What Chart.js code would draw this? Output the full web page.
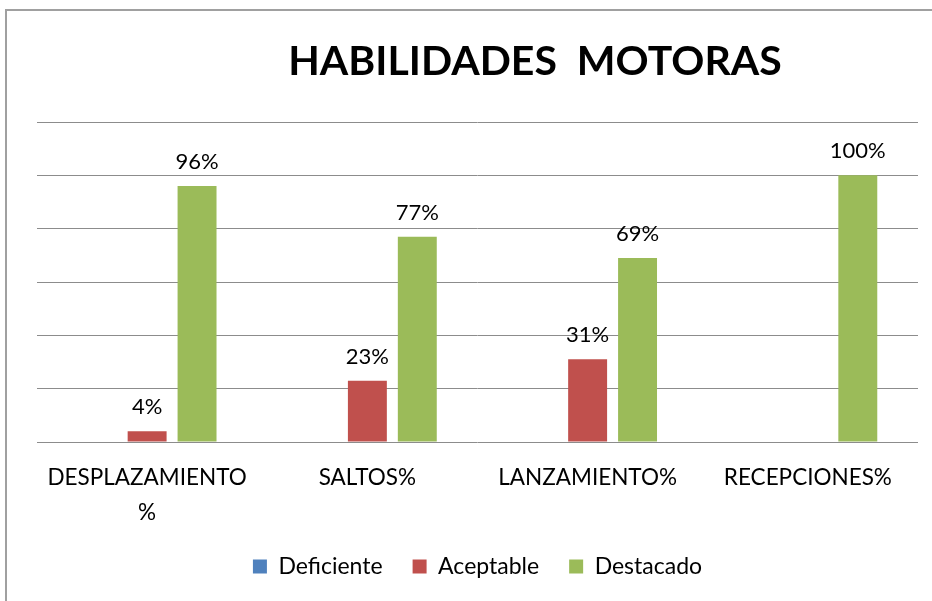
<!DOCTYPE html>
<html>
<head>
<meta charset="utf-8">
<script src="https://cdn.jsdelivr.net/npm/chart.js@4"></script>
<style>
  html, body { margin: 0; padding: 0; background: #fff; overflow: hidden; }
  #frame { position: absolute; left: 5px; top: 9px; width: 960px; height: 640px;
           border-left: 2px solid #a0a0a0; border-top: 2px solid #a0a0a0; }
  #wrap { position: absolute; left: 0; top: 0; width: 932px; height: 601px; }
</style>
</head>
<body>
<div id="frame"></div>
<div id="wrap"><canvas id="motorChart" width="932" height="601"></canvas></div>
<script>
const chartTitle = 'HABILIDADES  MOTORAS';
const categories = [['DESPLAZAMIENTO', '%'], 'SALTOS%', 'LANZAMIENTO%', 'RECEPCIONES%'];
const deficiente = [0, 0, 0, 0];
const aceptable = [4, 23, 31, 0];
const destacado = [96, 77, 69, 100];
const yTicks = [0, 20, 40, 60, 80, 100, 120];

const fontFamily = 'Lato, "Open Sans", sans-serif';

// titulo dibujado a mano, un poco a la derecha como en el original
const titlePlugin = {
    id: 'titleText',
    afterDraw(chart) {
        const ctx = chart.ctx;
        ctx.save();
        ctx.font = 'bold 41px ' + fontFamily;
        ctx.fillStyle = '#000';
        ctx.textAlign = 'center';
        ctx.textBaseline = 'middle';
        ctx.fillText(chartTitle, 535, 62);
        ctx.restore();
    }
};

// etiquetas de valor encima de cada barra
const valueLabels = {
    id: 'valueLabels',
    afterDatasetsDraw(chart) {
        const ctx = chart.ctx;
        ctx.save();
        ctx.font = '22px ' + fontFamily;
        ctx.fillStyle = '#000';
        ctx.textAlign = 'center';
        ctx.textBaseline = 'bottom';
        chart.data.datasets.forEach((ds, i) => {
            const meta = chart.getDatasetMeta(i);
            meta.data.forEach((bar, j) => {
                const v = ds.data[j];
                if (!v) return;
                ctx.fillText(v + '%', bar.x, bar.y - 13);
            });
        });
        ctx.restore();
    }
};

const ctx = document.getElementById('motorChart').getContext('2d');
const chartInstance = new Chart(ctx, {
    type: 'bar',
    data: {
        labels: categories,
        datasets: [
            { label: 'Deficiente', data: deficiente, backgroundColor: '#4F81BD' },
            { label: 'Aceptable', data: aceptable, backgroundColor: '#C0504D' },
            { label: 'Destacado', data: destacado, backgroundColor: '#9BBB59' }
        ]
    },
    options: {
        responsive: false,
        animation: false,
        categoryPercentage: 0.68,
        barPercentage: 0.78,
        layout: { padding: { left: 37, right: 14, top: 122, bottom: 13 } },
        plugins: {
            title: { display: false },
            tooltip: { enabled: false },
            legend: {
                position: 'bottom',
                labels: {
                    font: { family: fontFamily, size: 23 },
                    color: '#000',
                    boxWidth: 14,
                    boxHeight: 14,
                    padding: 30
                }
            }
        },
        scales: {
            x: {
                grid: { display: false, drawTicks: false },
                border: { display: false },
                ticks: {
                    font: { family: fontFamily, size: 22.5, lineHeight: 1.52 },
                    color: '#000',
                    padding: 19,
                    maxRotation: 0,
                    autoSkip: false
                },
                afterFit(scale) { scale.height = 83; }
            },
            y: {
                min: 0,
                max: 120,
                afterBuildTicks(scale) { scale.ticks = yTicks.map(v => ({ value: v })); },
                grid: { color: '#8c8c8c', lineWidth: 1, drawTicks: false },
                border: { display: false },
                ticks: { display: false },
                afterFit(scale) { scale.width = 0; }
            }
        }
    },
    plugins: [titlePlugin, valueLabels]
});
</script>
</body>
</html>
